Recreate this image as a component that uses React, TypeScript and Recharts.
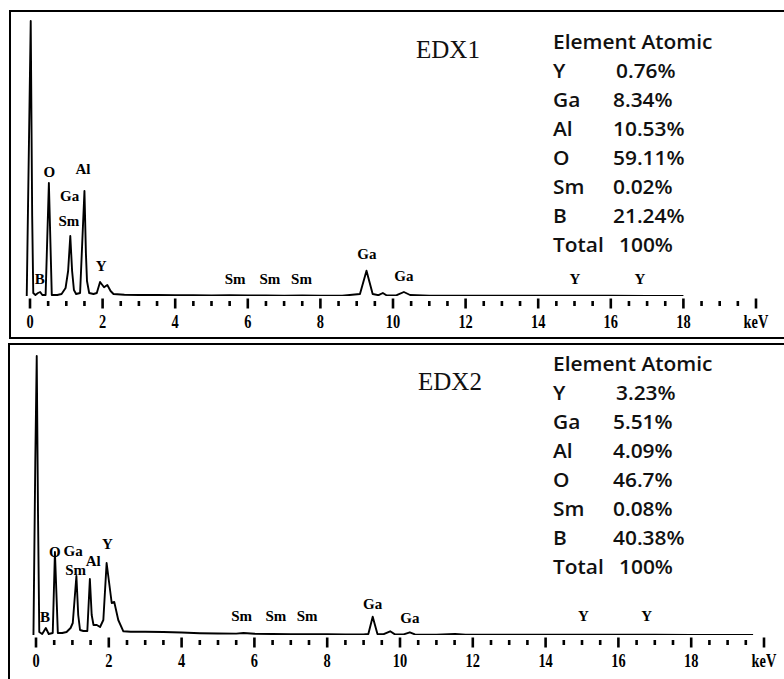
import React from 'react';
import { ComposedChart, Line, Scatter, XAxis, YAxis } from 'recharts';

// spectrum EDX1 (keV / counts)
const EDX1_KEV = [-0.09, 0.02, 0.06, 0.09, 0.15, 0.22, 0.28, 0.34, 0.43, 0.52, 0.6, 0.75, 0.87, 0.98, 1.05, 1.11, 1.16, 1.21, 1.27, 1.38, 1.5, 1.54, 1.57, 1.63, 1.75, 1.84, 1.93, 2.04, 2.13, 2.22, 2.3, 2.6, 3.0, 3.5, 4.0, 4.5, 5.0, 5.5, 6.0, 6.5, 7.0, 7.5, 8.0, 8.6, 9.09, 9.27, 9.44, 9.6, 9.72, 9.83, 10.1, 10.3, 10.47, 11.0, 12.0, 13.0, 14.0, 15.0, 16.0, 17.0, 18.0];
const EDX1_COUNTS = [0, 2750, 800, 30, 10, 30, 40, 10, 10, 1130, 10, 10, 20, 80, 250, 600, 250, 60, 20, 30, 1050, 430, 150, 30, 20, 30, 140, 87, 110, 50, 20, 12, 10, 10, 8, 8, 6, 8, 6, 5, 4, 5, 3, 2, 20, 253, 20, 8, 30, 5, 8, 40, 10, 4, 3, 3, 2, 2, 2, 1, 1];

// spectrum EDX2
const EDX2_KEV = [-0.07, -0.02, 0.02, 0.055, 0.09, 0.17, 0.27, 0.35, 0.46, 0.52, 0.6, 0.72, 0.84, 0.95, 1.01, 1.11, 1.16, 1.21, 1.3, 1.41, 1.48, 1.53, 1.58, 1.67, 1.76, 1.85, 1.94, 2.08, 2.15, 2.26, 2.4, 2.6, 3.0, 3.5, 4.0, 4.5, 5.0, 5.5, 5.7, 6.0, 6.5, 7.0, 7.5, 8.0, 8.5, 9.0, 9.13, 9.25, 9.38, 9.55, 9.73, 9.86, 10.1, 10.27, 10.41, 11.0, 11.51, 11.8, 13.0, 14.0, 15.0, 16.0, 17.0, 18.0, 19.0, 19.7];
const EDX2_COUNTS = [0, 1720, 2790, 1220, 30, 10, 70, 10, 20, 830, 20, 20, 30, 70, 120, 590, 200, 50, 40, 40, 560, 200, 100, 100, 80, 150, 720, 320, 330, 150, 37, 33, 32, 30, 25, 18, 15, 14, 20, 12, 10, 9, 8, 7, 6, 5, 10, 183, 10, 8, 37, 6, 6, 27, 6, 4, 10, 4, 3, 3, 4, 2, 2, 1, 1, 1];

// peak annotations
const EDX1_PEAK_NAMES = ['B', 'O', 'Al', 'Ga', 'Sm', 'Y', 'Sm', 'Sm', 'Sm', 'Ga', 'Ga', 'Y', 'Y'];
const EDX1_PEAK_KEV = [0.27, 0.53, 1.46, 1.09, 1.07, 1.96, 5.65, 6.61, 7.48, 9.28, 10.3, 15.01, 16.8];
const EDX1_PEAK_COUNTS = [175, 1240, 1270, 1000, 750, 300, 170, 170, 170, 420, 200, 175, 175];

const EDX2_PEAK_NAMES = ['B', 'O', 'Ga', 'Sm', 'Al', 'Y', 'Sm', 'Sm', 'Sm', 'Ga', 'Ga', 'Y', 'Y'];
const EDX2_PEAK_KEV = [0.25, 0.52, 1.02, 1.09, 1.57, 1.96, 5.65, 6.59, 7.45, 9.25, 10.27, 15.04, 16.78];
const EDX2_PEAK_COUNTS = [185, 830, 840, 650, 740, 910, 190, 190, 190, 310, 167, 193, 193];

const KEV_TICKS = [0, 0.5, 1, 1.5, 2, 2.5, 3, 3.5, 4, 4.5, 5, 5.5, 6, 6.5, 7, 7.5, 8, 8.5, 9, 9.5, 10, 10.5, 11, 11.5, 12, 12.5, 13, 13.5, 14, 14.5, 15, 15.5, 16, 16.5, 17, 17.5, 18, 18.5, 19, 19.5, 20];

// composition tables
const ELEMENTS = ['Y', 'Ga', 'Al', 'O', 'Sm', 'B'];
const EDX1_ATOMIC = ['0.76%', '8.34%', '10.53%', '59.11%', '0.02%', '21.24%'];
const EDX2_ATOMIC = ['3.23%', '5.51%', '4.09%', '46.7%', '0.08%', '40.38%'];

const SERIF = '"Liberation Serif", "Times New Roman", serif';
const SANS = '"Open Sans", "Noto Sans", sans-serif';

const zip = (kev: number[], counts: number[]) => kev.map((k, i) => ({ kev: k, counts: counts[i] }));

const KevTick = (props: any) => {
    const { x, y, payload } = props;
    const v = payload.value;
    const major = Math.abs(v % 2) < 1e-6;
    return (
        <g>
            <rect x={x - 1.3} y={y + (major ? 2.5 : 5)} width={2.6} height={major ? 10 : 5} fill="#000" />
            {major && (
                <text
                    transform={`translate(${x},${y + 32}) scale(0.9,1.2)`}
                    textAnchor="middle"
                    fontFamily={SERIF}
                    fontWeight="bold"
                    fontSize={16}
                    fill="#000"
                >
                    {v === 20 ? 'keV' : v}
                </text>
            )}
        </g>
    );
};

const PeakLabel = (props: any) => {
    const { cx, cy, payload } = props;
    return (
        <text x={cx} y={cy + 5} textAnchor="middle" fontFamily={SERIF} fontWeight="bold" fontSize={15} fill="#000">
            {payload.name}
        </text>
    );
};

const Spectrum = ({ data, peaks, width, height, margin }: any) => (
    <ComposedChart width={width} height={height} margin={margin}>
        <XAxis
            dataKey="kev"
            type="number"
            domain={[-0.2, 20.2]}
            allowDataOverflow
            ticks={KEV_TICKS}
            interval={0}
            tick={<KevTick />}
            tickLine={false}
            axisLine={false}
            tickSize={0}
            tickMargin={0}
            height={40}
        />
        <YAxis dataKey="counts" type="number" domain={[0, 2800]} allowDataOverflow hide />
        <Line
            data={data}
            dataKey="counts"
            type="linear"
            stroke="#000"
            strokeWidth={1.9}
            strokeLinejoin="round"
            dot={false}
            isAnimationActive={false}
        />
        <Scatter data={peaks} shape={<PeakLabel />} isAnimationActive={false} />
    </ComposedChart>
);

// stretched sans text, close to the wide Calibri look of the original
const Cell = ({ x, y, children }: any) => (
    <text transform={`translate(${x},${y}) scale(1.1,1)`}>{children}</text>
);

const Table = ({ values, top }: { values: string[]; top: number }) => {
    const step = 29.1;
    const cap = 6.8;
    return (
        <g fontFamily={SANS} fontWeight={600} fontSize={19} fill="#111">
            <Cell x={553} y={top + cap}>Element Atomic</Cell>
            {ELEMENTS.map((el, i) => (
                <g key={el}>
                    <Cell x={553} y={top + step * (i + 1) + cap}>{el}</Cell>
                    <Cell x={i === 0 ? 616 : 613} y={top + step * (i + 1) + cap}>{values[i]}</Cell>
                </g>
            ))}
            <Cell x={553} y={top + step * 7 + cap}>Total</Cell>
            <Cell x={619} y={top + step * 7 + cap}>100%</Cell>
        </g>
    );
};

export default function App() {
    const edx1 = zip(EDX1_KEV, EDX1_COUNTS);
    const edx2 = zip(EDX2_KEV, EDX2_COUNTS);
    const peaks1 = EDX1_PEAK_NAMES.map((n, i) => ({ name: n, kev: EDX1_PEAK_KEV[i], counts: EDX1_PEAK_COUNTS[i] }));
    const peaks2 = EDX2_PEAK_NAMES.map((n, i) => ({ name: n, kev: EDX2_PEAK_KEV[i], counts: EDX2_PEAK_COUNTS[i] }));

    return (
        <div style={{ position: 'absolute', left: 0, top: 0, width: 784, height: 679, overflow: 'hidden', background: '#fff' }}>
            {/* panel frames */}
            <div style={{ position: 'absolute', left: 9, top: 10, width: 820, height: 329, border: '2px solid #000', boxSizing: 'border-box' }} />
            <div style={{ position: 'absolute', left: 8, top: 343, width: 820, height: 400, border: '2px solid #000', boxSizing: 'border-box' }} />

            <div style={{ position: 'absolute', left: 0, top: 0 }}>
                <Spectrum
                    data={edx1}
                    peaks={peaks1}
                    width={784}
                    height={340}
                    margin={{ top: 16, right: 20.74, bottom: 4, left: 22.74 }}
                />
            </div>
            <div style={{ position: 'absolute', left: 0, top: 340 }}>
                <Spectrum
                    data={edx2}
                    peaks={peaks2}
                    width={784}
                    height={339}
                    margin={{ top: 15, right: 12.72, bottom: 4, left: 28.72 }}
                />
            </div>

            <svg width={784} height={679} style={{ position: 'absolute', left: 0, top: 0, pointerEvents: 'none' }}>
                <text x={448} y={58} textAnchor="middle" fontFamily={SERIF} fontSize={25} fill="#111">EDX1</text>
                <text x={450} y={390} textAnchor="middle" fontFamily={SERIF} fontSize={25} fill="#111">EDX2</text>
                <Table values={EDX1_ATOMIC} top={41.7} />
                <Table values={EDX2_ATOMIC} top={363.7} />
            </svg>
        </div>
    );
}
